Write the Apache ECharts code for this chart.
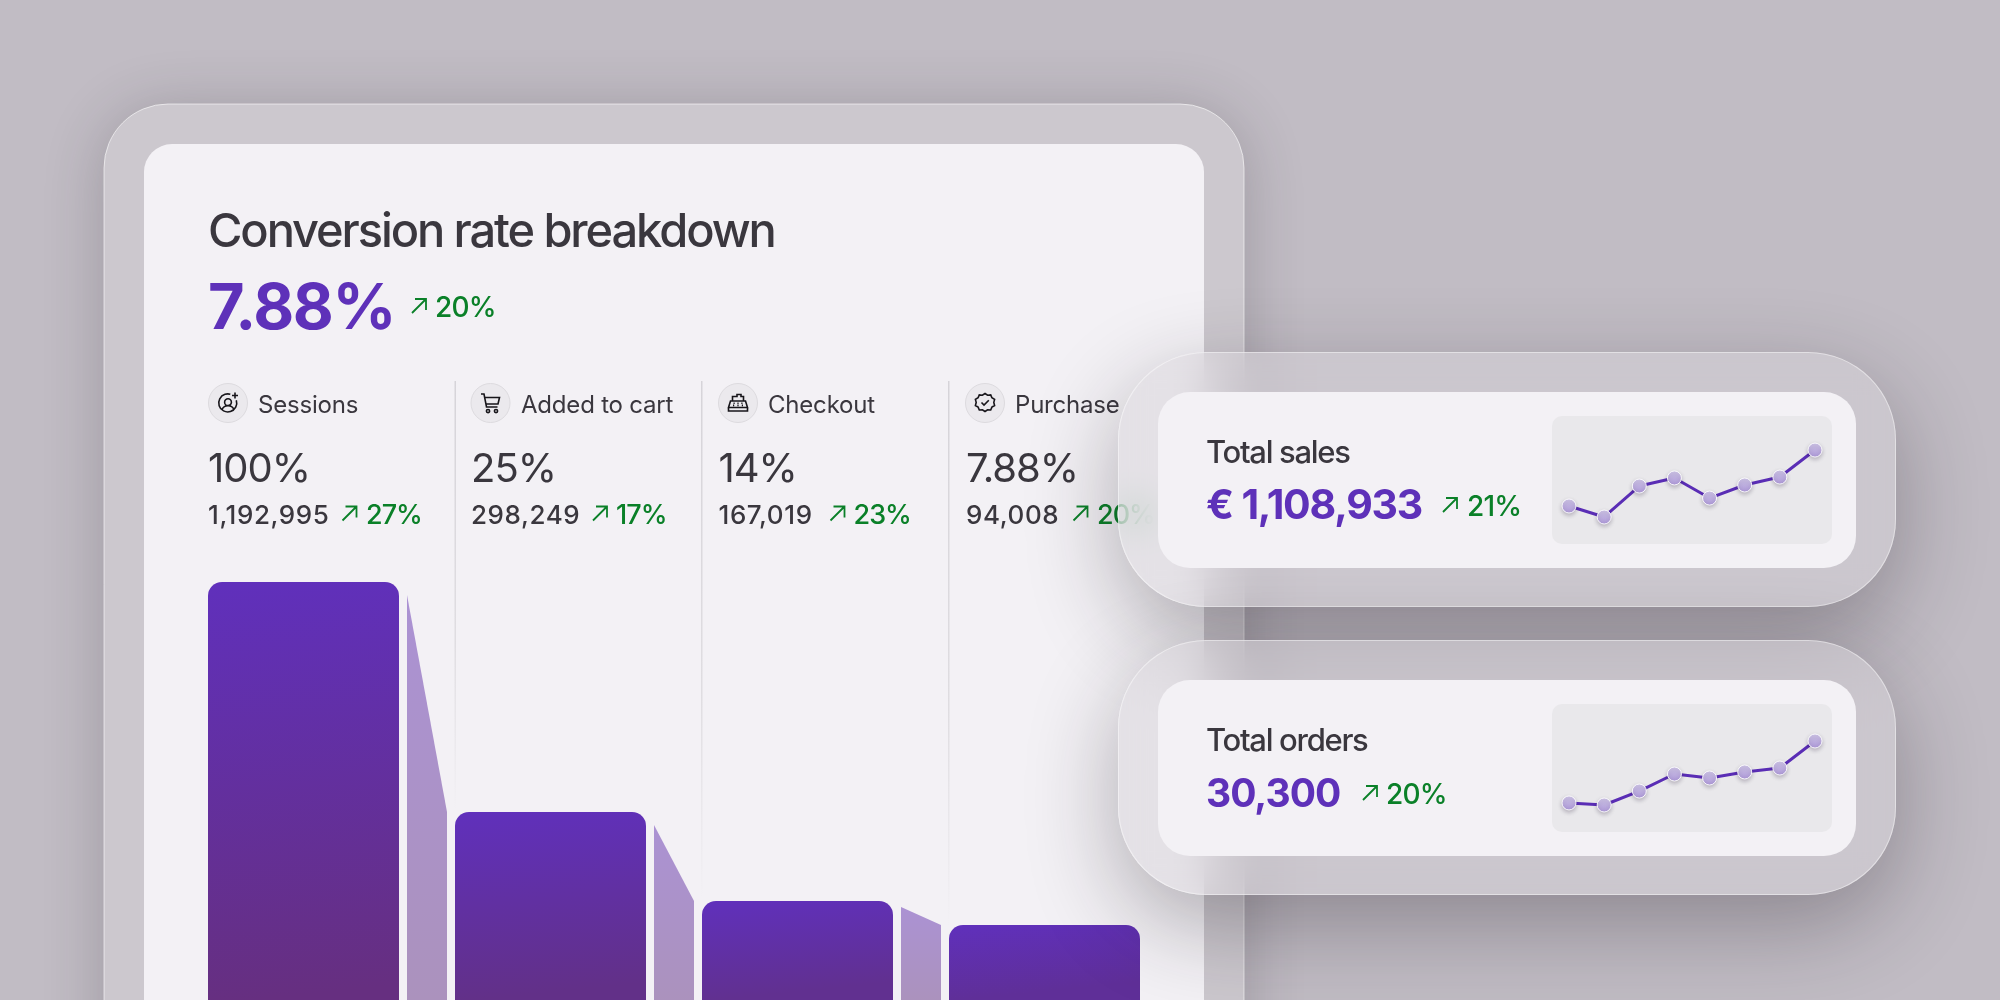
<!DOCTYPE html>
<html>
<head>
<meta charset="utf-8">
<title>Conversion rate breakdown</title>
<script src="https://cdn.jsdelivr.net/npm/echarts@6/dist/echarts.min.js"></script>
<style>
  html, body { margin: 0; width: 2000px; height: 1000px; overflow: hidden; background: #c1bcc4; }
  #funnel, #cards { position: absolute; left: 0; top: 0; width: 2000px; height: 1000px; }
  .glass {
    position: absolute; left: 1118px; width: 778px; height: 255px; box-sizing: border-box;
    border-radius: 88px;
    border: 1px solid rgba(255, 255, 255, .45);
    background: rgba(213, 210, 216, .5);
    -webkit-backdrop-filter: blur(18px);
    backdrop-filter: blur(18px);
    box-shadow: 0 30px 90px rgba(30, 26, 34, .32);
  }
</style>
</head>
<body>
<div id="funnel"></div>
<div class="glass" style="top:352px"></div>
<div class="glass" style="top:640px"></div>
<div id="cards"></div>
<script>
// Funnel steps
const steps = ['Sessions', 'Added to cart', 'Checkout', 'Purchase'];
const stepShares = ['100%', '25%', '14%', '7.88%'];
const stepCounts = ['1,192,995', '298,249', '167,019', '94,008'];
const stepDeltas = ['27%', '17%', '23%', '20%'];
// Bar levels and the drop-off wedge between neighbouring bars
const barLevels = [418, 188, 99, 75];
const barEndColors = ['#662f80', '#623088', '#613090', '#5f2f98'];
const wedgeFrom = [405, 175, 93];
const wedgeTo = [188, 99, 75];
// Sparklines
const trendDays = ['1', '2', '3', '4', '5', '6', '7', '8'];
const salesTrend = [29.7, 21.1, 45.3, 51.6, 35.9, 46.1, 52.3, 73.4];
const ordersTrend = [22.7, 21.1, 32, 45.3, 42.2, 46.9, 50, 71.1];

const PURPLE = '#5e31b9';
const INK = '#3a373e';
const GREEN = '#0a8028';
const FONT = 'Inter';

// Tracking for each type size, in px
const tracking = { 47: -2.1, 63: -1.4, 41: -1.2, 40: -1, 39: -1, 31: -1.3, 28: -0.8, 27: -1, 26: 0.6, 24: -0.2 };
const plainFillText = CanvasRenderingContext2D.prototype.fillText;
CanvasRenderingContext2D.prototype.fillText = function (text, x, y, maxWidth) {
  const size = parseInt((this.font.match(/(\d+)px/) || [])[1], 10);
  this.letterSpacing = (tracking[size] || 0) + 'px';
  if (maxWidth === undefined) plainFillText.call(this, text, x, y);
  else plainFillText.call(this, text, x, y, maxWidth);
  this.letterSpacing = '0px';
};

// Line icons on a 24-unit box, and the trend arrow on a 16-unit box
const iconPaths = {
  iconSessions: 'M20.3 9.2A9 9 0 1 1 14.3 3.3M12 7.8a3.4 3.4 0 1 0 .01 0ZM5.8 18.6c1.3-2.5 3.5-3.8 6.2-3.8s4.9 1.3 6.2 3.8M19 1.5v6M16 4.5h6',
  iconCart: 'M2.5 3H5.5L8 16H19M6 6.5H21L19.5 13H7.2M9.5 18.5a1.6 1.6 0 1 0 .01 0ZM17.5 18.5a1.6 1.6 0 1 0 .01 0Z',
  iconCheckout: 'M6.5 10V5.5H11V3.5H15V5.5H17.5V10M4.5 10H19.5L21.5 16.5H2.5ZM2.5 16.5V20H21.5V16.5M7.5 12.3h1.2M11.4 12.3h1.2M15.3 12.3h1.2M7 14.4h1.2M11.4 14.4h1.2M15.8 14.4h1.2',
  iconPurchase: 'M12 2.5L14.6 4.2L17.7 3.9L18.9 6.8L21.6 8.4L20.8 11.4L21.6 14.5L18.9 16.1L17.7 19L14.6 18.8L12 20.5L9.4 18.8L6.3 19L5.1 16.1L2.4 14.5L3.2 11.4L2.4 8.4L5.1 6.8L6.3 3.9L9.4 4.2ZM8.5 11.5L11 14L15.8 9.2',
  upArrow: 'M1 15L15 1M4 1H15V12'
};
Object.keys(iconPaths).forEach(name => {
  echarts.graphic.registerShape(name, echarts.graphic.extendPath(iconPaths[name], {}));
});
const iconNames = ['iconSessions', 'iconCart', 'iconCheckout', 'iconPurchase'];

function label(text, x, baseline, size, weight, fill) {
  return {
    type: 'text', x, y: baseline - size * 0.28,
    style: { text, x: 0, y: 0, fontFamily: FONT, fontSize: size, fontWeight: weight, fill,
             align: 'left', verticalAlign: 'middle' }
  };
}
function upArrow(x, y) {
  return { type: 'upArrow', x, y, style: { fill: 'none', stroke: GREEN, lineWidth: 1.8 } };
}
function panel(x, y, width, height, r, fill, extra) {
  return {
    type: 'rect', shape: { x, y, width, height, r },
    style: Object.assign({ fill }, extra || {})
  };
}
function fadingRule(x, y0, y1) {
  return {
    type: 'rect', shape: { x, y: y0, width: 1.5, height: y1 - y0 },
    style: { fill: { type: 'linear', x: 0, y: 0, x2: 0, y2: 1, colorStops: [
      { offset: 0, color: '#d6d4d9' }, { offset: 0.6, color: '#dfdde1' }, { offset: 1, color: 'rgba(223,221,225,0)' }
    ] } }
  };
}

const columnX = [208, 471, 718.5, 966];
const iconX = [228, 490.5, 738, 985];
const labelX = [258, 521, 768, 1015];
const arrowX = [341.5, 592, 829.5, 1072.5];
const deltaX = [366, 616, 853.5, 1097];

const baseGraphics = [
  panel(104, 104, 1140, 1000, 64, '#ccc8ce', { stroke: 'rgba(255,255,255,.6)', lineWidth: 1,
    shadowBlur: 60, shadowColor: 'rgba(40,36,44,.24)', shadowOffsetY: 6 }),
  panel(144, 144, 1060, 1000, 28, '#f3f1f5'),
  label('Conversion rate breakdown', 208, 246, 47, 550, INK),
  label('7.88%', 208, 328, 63, 650, PURPLE),
  upArrow(411, 298),
  label('20%', 435, 316, 28, 500, GREEN),
  fadingRule(454.5, 381, 812),
  fadingRule(701, 381, 900),
  fadingRule(948, 381, 925)
];
steps.forEach((name, i) => {
  baseGraphics.push(
    { type: 'circle', shape: { cx: iconX[i], cy: 403, r: 19.5 },
      style: { fill: '#ebe9ed', stroke: '#dddbdf', lineWidth: 1 } },
    { type: iconNames[i], x: iconX[i] - 12, y: 391, style: { fill: 'none', stroke: '#17151a', lineWidth: 1.6 } },
    label(name, labelX[i], 412.5, 24, 400, INK),
    label(stepShares[i], columnX[i], 481, 40, 400, INK),
    label(stepCounts[i], columnX[i], 523, 26, 500, INK),
    upArrow(arrowX[i], 505.5),
    label(stepDeltas[i], deltaX[i], 523, 27, 500, GREEN)
  );
});

// The gradient leans a few degrees, so its x reach grows with the bar's height
function barFill(level, endColor) {
  return {
    type: 'linear', x: 0, y: 0, x2: level * 0.1 / 191, y2: 1,
    colorStops: [{ offset: 0, color: '#6030bc' }, { offset: 1, color: endColor }]
  };
}

const funnel = echarts.init(document.getElementById('funnel'), null, { width: 2000, height: 1000 });
funnel.setOption({
  animation: false,
  backgroundColor: '#c1bcc4',
  graphic: { elements: baseGraphics },
  grid: { left: 180, right: 832, top: 582, bottom: 0 },
  xAxis: { type: 'category', data: steps, show: false },
  yAxis: { type: 'value', min: 0, max: 418, show: false },
  series: [
    {
      type: 'bar', barWidth: 191, z: 3,
      data: barLevels.map((value, i) => ({ value, itemStyle: { color: barFill(value, barEndColors[i]) } })),
      itemStyle: { borderRadius: [14, 14, 0, 0] }
    },
    {
      type: 'custom', z: 2, data: wedgeFrom.map((v, i) => [i, v, wedgeTo[i]]),
      renderItem(params, api) {
        const i = api.value(0);
        const left = api.coord([i, api.value(1)]);
        const right = api.coord([i, api.value(2)]);
        const floor = api.coord([i, 0])[1];
        const x0 = left[0] + 103.5, x1 = x0 + 40;
        return {
          type: 'polygon',
          shape: { points: [[x0, left[1]], [x1, right[1]], [x1, floor], [x0, floor]] },
          style: { fill: { type: 'linear', x: 0, y: 0, x2: 0, y2: 1, colorStops: [
            { offset: 0, color: '#ab92d3' }, { offset: 1, color: '#ab92bd' }
          ] } }
        };
      }
    }
  ]
});

const cardGraphics = [
  panel(1158, 392, 698, 176, 32, '#f3f1f5'),
  panel(1552, 416, 280, 128, 10, '#e9e8eb'),
  panel(1158, 680, 698, 176, 32, '#f3f1f5'),
  panel(1552, 704, 280, 128, 10, '#e9e8eb'),
  label('Total sales', 1206, 462, 31, 550, INK),
  label('€ 1,108,933', 1206, 518, 41, 650, PURPLE),
  upArrow(1442, 497),
  label('21%', 1467, 515, 28, 500, GREEN),
  label('Total orders', 1206, 750, 31, 550, INK),
  label('30,300', 1206, 806, 39, 650, PURPLE),
  upArrow(1362, 785),
  label('20%', 1386, 803, 28, 500, GREEN)
];
function spark(data, gridIndex) {
  return {
    type: 'line', data, xAxisIndex: gridIndex, yAxisIndex: gridIndex,
    symbol: 'circle', symbolSize: 14, showSymbol: true, z: 4,
    lineStyle: { color: '#5a2db5', width: 3 },
    itemStyle: {
      borderColor: 'rgba(255,255,255,.9)', borderWidth: 1,
      shadowBlur: 4, shadowOffsetY: 2, shadowColor: 'rgba(30,20,50,.25)',
      color: { type: 'linear', x: 0, y: 0, x2: 0, y2: 1, colorStops: [
        { offset: 0, color: '#d0c7e8' }, { offset: 1, color: '#ab96d6' }
      ] }
    }
  };
}
const cards = echarts.init(document.getElementById('cards'), null, { width: 2000, height: 1000 });
cards.setOption({
  animation: false,
  graphic: { elements: cardGraphics },
  grid: [
    { left: 1569, right: 185, top: 416, height: 128 },
    { left: 1569, right: 185, top: 704, height: 128 }
  ],
  xAxis: [0, 1].map(gridIndex => ({ type: 'category', gridIndex, data: trendDays, boundaryGap: false, show: false })),
  yAxis: [0, 1].map(gridIndex => ({ type: 'value', gridIndex, min: 0, max: 100, show: false })),
  series: [spark(salesTrend, 0), spark(ordersTrend, 1)]
});
</script>
</body>
</html>
